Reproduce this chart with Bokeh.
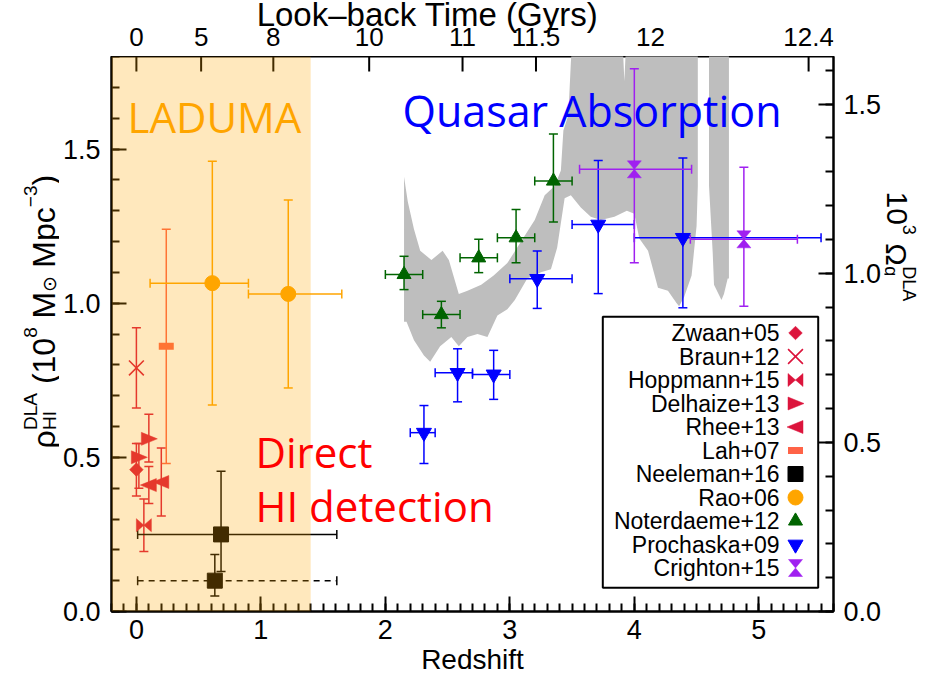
import numpy as np
from bokeh.plotting import figure
from bokeh.layouts import row, column
from bokeh.models import (Range1d, LinearAxis, SingleIntervalTicker, PrintfTickFormatter,
                          BoxAnnotation, Label)
from bokeh.core.properties import value
from bokeh.embed import file_html
from bokeh.resources import INLINE

# ---------------- data (redshift z, rho_HI in 1e8 Msun/Mpc^3) ----------------
zwaan_z = [0.00]; zwaan_r = [0.46]; zwaan_lo = [0.085]; zwaan_hi = [0.085]
braun_z = [0.00]; braun_r = [0.79]; braun_lo = [0.13]; braun_hi = [0.13]
hopp_z = [0.06]; hopp_r = [0.28]; hopp_lo = [0.085]; hopp_hi = [0.085]
delh_z = [0.02, 0.10]; delh_r = [0.50, 0.56]; delh_lo = [0.10, 0.075]; delh_hi = [0.045, 0.08]
rhee_z = [0.10, 0.20]; rhee_r = [0.41, 0.42]; rhee_lo = [0.06, 0.11]; rhee_hi = [0.06, 0.11]
lah_z = [0.24]; lah_r = [0.86]; lah_lo = [0.38]; lah_hi = [0.38]
neel_z = [0.68, 0.63]; neel_r = [0.25, 0.10]; neel_lo = [0.12, 0.05]; neel_hi = [0.205, 0.085]
neel_zlo = [0.01, 0.01]; neel_zhi = [1.61, 1.61]
rao_z = [0.61, 1.22]; rao_r = [1.065, 1.03]; rao_lo = [0.395, 0.305]; rao_hi = [0.395, 0.305]
rao_zlo = [0.11, 0.90]; rao_zhi = [0.90, 1.65]
note_z = [2.15, 2.45, 2.75, 3.05, 3.35]; note_r = [1.093, 0.963, 1.147, 1.212, 1.396]
note_lo = [0.049, 0.043, 0.048, 0.081, 0.133]; note_hi = [0.059, 0.043, 0.060, 0.092, 0.153]
note_zlo = [2.0, 2.3, 2.6, 2.9, 3.2]; note_zhi = [2.3, 2.6, 2.9, 3.2, 3.5]
proc_z = [2.31, 2.58, 2.87, 3.22, 3.71, 4.39]; proc_r = [0.58, 0.774, 0.769, 1.079, 1.255, 1.212]
proc_lo = [0.10, 0.094, 0.081, 0.096, 0.224, 0.227]; proc_hi = [0.088, 0.078, 0.078, 0.09, 0.208, 0.259]
proc_zlo = [2.2, 2.4, 2.7, 3.0, 3.5, 4.0]; proc_zhi = [2.4, 2.7, 3.0, 3.5, 4.0, 5.5]
crig_z = [4.00, 4.88]; crig_r = [1.434, 1.207]; crig_lo = [0.303, 0.217]; crig_hi = [0.326, 0.234]
crig_zlo = [3.56, 4.45]; crig_zhi = [4.46, 5.31]

# grey band (continuous DLA estimate): upper / lower envelopes
band1_top_z = [2.15, 2.18, 2.23, 2.28, 2.37, 2.46, 2.51, 2.59, 2.66, 2.77, 2.87, 2.98, 3.09, 3.20,
               3.28, 3.36, 3.41, 3.43, 3.47, 3.49, 3.51, 3.90, 3.92, 3.94, 4.51]
band1_top_r = [1.41, 1.33, 1.24, 1.17, 1.14, 1.17, 1.14, 1.03, 1.04, 1.06, 1.09, 1.13, 1.20, 1.27,
               1.35, 1.38, 1.43, 1.56, 1.61, 1.78, 1.90, 1.90, 1.72, 1.90, 1.90]
band1_bot_z = [2.15, 2.17, 2.23, 2.31, 2.36, 2.44, 2.53, 2.59, 2.66, 2.74, 2.82, 2.90, 2.98, 3.04,
               3.14, 3.25, 3.33, 3.38, 3.44, 3.49, 3.57, 3.65, 3.73, 3.84, 3.94, 4.00, 4.04, 4.11,
               4.19, 4.27, 4.34, 4.36, 4.40, 4.46, 4.50, 4.51]
band1_bot_r = [0.94, 0.94, 0.88, 0.83, 0.81, 0.86, 0.89, 0.86, 0.89, 0.90, 0.89, 0.96, 0.98, 1.01,
               1.08, 1.10, 1.11, 1.18, 1.34, 1.35, 1.31, 1.28, 1.27, 1.28, 1.30, 1.29, 1.21, 1.17,
               1.05, 1.04, 1.00, 0.99, 1.02, 1.09, 1.25, 1.38]
band2_z = [4.60, 4.76, 4.76, 4.75, 4.72, 4.70, 4.64, 4.63, 4.60]
band2_r = [1.90, 1.90, 1.08, 1.08, 1.03, 1.01, 1.06, 1.16, 1.38]

# top axis: look-back time labels and the redshifts where they sit
top_labels = ["0", "5", "8", "10", "11", "11.5", "12", "12.4"]
top_z = [0.0, 0.52, 1.10, 1.87, 2.62, 3.21, 4.13, 5.40]

legend_names = ["Zwaan+05", "Braun+12", "Hoppmann+15", "Delhaize+13", "Rhee+13", "Lah+07",
                "Neeleman+16", "Rao+06", "Noterdaeme+12", "Prochaska+09", "Crighton+15"]

OMEGA_PER_RHO = 1.0 / 1.097   # right axis conversion

# ---------------- colours ----------------
CRIMSON = "#dc143c"; TOMATO = "#ff6347"; ORANGE = "#ffa500"; DKGREEN = "#006400"
BLUE = "#0000ff"; PURPLE = "#a020f0"; GREY = "#bebebe"

# ---------------- geometry ----------------
FW, FH = 722, 555
X0, X1 = -0.2, 5.6
Y0, Y1 = 0.0, 1.8
O = 1                                # where the layout starts in the screenshot
LEFT_W, BORDER_L, BORDER_R, RIGHT_W = 59, 51, 50, 40
TOP_H, BOTTOM_B = 56, 67
FL = O + LEFT_W + BORDER_L           # frame left (px)
FT = O + TOP_H                       # frame top (px)
TOTAL_H = TOP_H + FH + BOTTOM_B
def dz(px): return px * (X1 - X0) / FW
def dr(px): return px * (Y1 - Y0) / FH
def zpix(xp): return X0 + dz(xp - FL)
def rpix(yp): return Y1 - dr(yp - FT)

FONT = "Liberation Sans"
TICK_FS = "27px"

p = figure(frame_width=FW, frame_height=FH, x_range=Range1d(X0, X1), y_range=Range1d(Y0, Y1),
           output_backend="svg", toolbar_location=None,
           min_border_left=BORDER_L, min_border_right=BORDER_R, min_border_top=0,
           min_border_bottom=BOTTOM_B)
p.xgrid.visible = False
p.ygrid.visible = False
p.outline_line_color = "black"
p.outline_line_width = 2

def style_axis(ax, size=TICK_FS):
    ax.axis_line_width = 2
    ax.axis_line_color = "black"
    ax.major_tick_line_width = 2
    ax.minor_tick_line_width = 2
    ax.major_tick_in = 15
    ax.major_tick_out = 0
    ax.minor_tick_in = 8
    ax.minor_tick_out = 0
    ax.major_label_text_font = FONT
    ax.major_label_text_font_size = size
    ax.major_label_text_color = "black"
    ax.major_label_standoff = 8

# bottom
p.xaxis.ticker = SingleIntervalTicker(interval=1, num_minor_ticks=10)
style_axis(p.xaxis)
p.xaxis.axis_label = "Redshift"
p.xaxis.axis_label_text_font = FONT
p.xaxis.axis_label_text_font_size = "28px"
p.xaxis.axis_label_text_font_style = "normal"
p.xaxis.axis_label_text_color = "black"
p.xaxis.axis_label_standoff = 2
# left
p.yaxis.ticker = SingleIntervalTicker(interval=0.5, num_minor_ticks=5)
p.yaxis.formatter = PrintfTickFormatter(format="%.1f")
style_axis(p.yaxis)
p.yaxis.major_label_standoff = 11
# right
p.extra_y_ranges = {"omega": Range1d(Y0 * OMEGA_PER_RHO, Y1 * OMEGA_PER_RHO)}
ax_r = LinearAxis(y_range_name="omega", ticker=SingleIntervalTicker(interval=0.5, num_minor_ticks=5),
                  formatter=PrintfTickFormatter(format="%.1f"))
style_axis(ax_r)
ax_r.major_label_standoff = 10
p.add_layout(ax_r, "right")

# top ticks (look-back time), pointing into the frame
p.segment(x0=top_z, y0=[Y1] * len(top_z), x1=top_z, y1=[Y1 - dr(15)] * len(top_z),
          line_color="black", line_width=2)

# ---------------- grey band ----------------
b1x = band1_top_z + band1_bot_z[::-1]
b1y = band1_top_r + band1_bot_r[::-1]
p.patches(xs=[b1x, band2_z], ys=[b1y, band2_r], fill_color=GREY, line_color=None)

# ---------------- error bars ----------------
def errbars(z, r, lo, hi, color, zlo=None, zhi=None, dashed=False, lw=1.5):
    z = np.array(z, float); r = np.array(r, float)
    lo = np.array(lo, float); hi = np.array(hi, float)
    p.segment(x0=z, y0=r - lo, x1=z, y1=r + hi, line_color=color, line_width=lw)
    p.scatter(x=np.r_[z, z], y=np.r_[r - lo, r + hi], marker="dash", size=9,
              line_color=color, line_width=lw)
    if zlo is not None:
        zlo = np.array(zlo, float); zhi = np.array(zhi, float)
        p.segment(x0=zlo, y0=r, x1=zhi, y1=r, line_color=color, line_width=lw,
                  line_dash="6 5" if dashed else "solid")
        p.scatter(x=np.r_[zlo, zhi], y=np.r_[r, r], marker="dash", size=9, angle=np.pi / 2,
                  line_color=color, line_width=lw)

errbars(braun_z, braun_r, braun_lo, braun_hi, CRIMSON)
errbars(zwaan_z, zwaan_r, zwaan_lo, zwaan_hi, CRIMSON)
errbars(hopp_z, hopp_r, hopp_lo, hopp_hi, CRIMSON)
errbars(delh_z, delh_r, delh_lo, delh_hi, CRIMSON)
errbars(rhee_z, rhee_r, rhee_lo, rhee_hi, CRIMSON)
errbars(lah_z, lah_r, lah_lo, lah_hi, TOMATO)
errbars(rao_z, rao_r, rao_lo, rao_hi, ORANGE, rao_zlo, rao_zhi)
errbars(neel_z[:1], neel_r[:1], neel_lo[:1], neel_hi[:1], "black", neel_zlo[:1], neel_zhi[:1])
errbars(neel_z[1:], neel_r[1:], neel_lo[1:], neel_hi[1:], "black", neel_zlo[1:], neel_zhi[1:], dashed=True)
errbars(note_z, note_r, note_lo, note_hi, DKGREEN, note_zlo, note_zhi)
errbars(proc_z, proc_r, proc_lo, proc_hi, BLUE, proc_zlo, proc_zhi)
errbars(crig_z, crig_r, crig_lo, crig_hi, PURPLE, crig_zlo, crig_zhi)

# ---------------- markers ----------------
# polygon symbols: vertex offsets in screen pixels (x right, y up) around each data point
SYMBOLS = {
    "diamond":   [(0, 6.8), (6.8, 0), (0, -6.8), (-6.8, 0)],
    "bowtie":    [(-7.5, 6.5), (7.5, -6.5), (7.5, 6.5), (-7.5, -6.5)],
    "right":     [(-7.5, 6.5), (8.5, 0), (-7.5, -6.5)],
    "left":      [(7.5, 6.5), (-8.5, 0), (7.5, -6.5)],
    "hourglass": [(-7, 8.5), (7, 8.5), (-7, -8.5), (7, -8.5)],
}

def poly_marker(kind, z, r, color):
    verts = SYMBOLS[kind]
    xs = [[zi + dz(vx) for vx, vy in verts] for zi in z]
    ys = [[ri + dr(vy) for vx, vy in verts] for ri in r]
    p.patches(xs=xs, ys=ys, fill_color=color, line_color=color, line_width=0.5)

def draw_markers(kind, z, r, color):
    if kind in SYMBOLS:
        poly_marker(kind, z, r, color)
    elif kind == "x":
        p.scatter(x=z, y=r, marker="x", size=21, line_color=color, line_width=1.6)
    elif kind == "bar":
        p.rect(x=z, y=r, width=15, height=7, width_units="screen", height_units="screen",
               fill_color=color, line_color=None)
    elif kind == "square":
        p.scatter(x=z, y=r, marker="square", size=15, fill_color=color, line_color=color)
    elif kind == "circle":
        p.scatter(x=z, y=r, marker="circle", size=15, fill_color=color, line_color=color)
    elif kind == "up":
        p.scatter(x=z, y=r, marker="triangle", size=14, fill_color=color, line_color=color)
    elif kind == "down":
        p.scatter(x=z, y=r, marker="inverted_triangle", size=15, fill_color=color, line_color=color)

series = [("diamond", zwaan_z, zwaan_r, CRIMSON), ("x", braun_z, braun_r, CRIMSON),
          ("bowtie", hopp_z, hopp_r, CRIMSON), ("right", delh_z, delh_r, CRIMSON),
          ("left", rhee_z, rhee_r, CRIMSON), ("bar", lah_z, lah_r, TOMATO),
          ("square", neel_z, neel_r, "black"), ("circle", rao_z, rao_r, ORANGE),
          ("up", note_z, note_r, DKGREEN), ("down", proc_z, proc_r, BLUE),
          ("hourglass", crig_z, crig_r, PURPLE)]
for kind, z, r, c in series:
    draw_markers(kind, z, r, c)

# ---------------- LADUMA shading (drawn over everything) ----------------
p.add_layout(BoxAnnotation(right=1.4, fill_color=ORANGE, fill_alpha=0.26, line_alpha=0, level="overlay"))

# ---------------- legend (box + right-aligned names + markers) ----------------
p.add_layout(BoxAnnotation(left=zpix(602.3), right=zpix(817.7), top=rpix(317.3), bottom=rpix(588.3),
                           fill_color="white", fill_alpha=1.0, line_color="black", line_alpha=1.0,
                           line_width=2, level="underlay"))
row_y = [rpix(333.5 + 23.5 * i) for i in range(len(legend_names))]
p.text(x=[zpix(779)] * len(legend_names), y=row_y, text=legend_names, text_align="right",
       text_baseline="middle", text_font=value(FONT), text_font_size="23px", text_color="black")
for (kind, _, _, c), yy in zip(series, row_y):
    draw_markers(kind, [zpix(795)], [yy], c)

# ---------------- in-plot texts ----------------
def add_label(text, xp, yp, size, color, font="Open Sans"):
    p.add_layout(Label(x=zpix(xp), y=rpix(yp), text=text, text_font=font, text_font_size=size,
                       text_color=color, text_align="left", text_baseline="alphabetic", level="overlay"))

add_label("LADUMA", 127, 117, "42px", ORANGE)
add_label("Quasar Absorption", 402, 111, "43px", BLUE)
add_label("Direct", 255, 452, "42px", "#ff0000")
add_label("HI detection", 255, 506, "42px", "#ff0000")

# ---------------- strip above: look-back time labels + title ----------------
top_fig = figure(frame_width=FW, frame_height=TOP_H, x_range=p.x_range, y_range=Range1d(0, TOP_H),
                 output_backend="svg", toolbar_location=None, x_axis_type=None, y_axis_type=None,
                 min_border_left=BORDER_L, min_border_right=BORDER_R, min_border_top=0, min_border_bottom=0,
                 outline_line_color=None)
top_fig.grid.visible = False
top_fig.text(x=top_z, y=[FT - 37] * len(top_z), text=top_labels, text_align="center",
             text_baseline="middle", text_font=value(FONT), text_font_size="26px", text_color="black")
top_fig.text(x=[zpix(427)], y=[FT - 15], text=["Look\u2013back Time (Gyrs)"], text_align="center",
             text_baseline="middle", text_font=value(FONT), text_font_size="33px", text_color="black")

# ---------------- side strips with the rotated axis titles ----------------
W = {'\u03c1': 0.58, 'H': 0.722, 'I': 0.278, 'D': 0.722, 'L': 0.556, 'A': 0.667, ' ': 0.278,
     '(': 0.333, '1': 0.556, '0': 0.556, '8': 0.556, 'M': 0.833, '\u2299': 0.8, 'p': 0.556,
     'c': 0.5, '\u2212': 0.584, '3': 0.556, ')': 0.333, '\u03a9': 0.768, 'g': 0.556}
def tw(s, f): return sum(W.get(ch, 0.55) for ch in s) * f

def side_fig(width):
    f = figure(width=width, height=TOTAL_H, x_range=Range1d(0, width), y_range=Range1d(0, TOTAL_H),
               output_backend="svg", toolbar_location=None, x_axis_type=None, y_axis_type=None,
               min_border=0, outline_line_color=None)
    f.grid.visible = False
    return f

def rotated_title(fig, page_x0, pieces, start, base, direction, F, f):
    # direction=+1: text runs upward; superscripts sit towards -x
    def put(txt, xpage, ypage, size):
        fig.text(x=[xpage - page_x0], y=[O + TOTAL_H - ypage], text=[txt], angle=direction * np.pi / 2,
                 text_align="left", text_baseline="alphabetic", text_font=value(FONT),
                 text_font_size=f"{size}px", text_color="black")
    pos = start
    i = 0
    while i < len(pieces):
        txt, kind = pieces[i]
        if kind == "space":
            pos -= direction * 0.278 * F
            i += 1
        elif kind == "n":
            put(txt, base, pos, F)
            pos -= direction * tw(txt, F)
            i += 1
        else:
            group = [pieces[i]]
            if i + 1 < len(pieces) and pieces[i + 1][1] in ("sub", "sup") and pieces[i + 1][1] != kind:
                group.append(pieces[i + 1])
            adv = 0
            for t, k in group:
                shift = (-0.42 * F if k == "sup" else 0.2 * F) * direction
                put(t, base + shift, pos, f)
                adv = max(adv, tw(t, f))
            pos -= direction * adv
            i += len(group)

left_fig = side_fig(LEFT_W)
rotated_title(left_fig, O, [("\u03c1", "n"), ("HI", "sub"), ("DLA", "sup"), ("", "space"), ("(10", "n"),
                            ("8", "sup"), ("", "space"), ("M", "n"), ("\u2299", "sub"), ("", "space"),
                            ("Mpc", "n"), ("\u22123", "sup"), (")", "n")],
              start=449, base=44, direction=1, F=32, f=19)
right_fig = side_fig(RIGHT_W)
RX0 = FL + FW + BORDER_R
rotated_title(right_fig, RX0, [("10", "n"), ("3", "sup"), ("", "space"), ("\u03a9", "n"), ("g", "sub"),
                               ("DLA", "sup")],
              start=192, base=895, direction=-1, F=30, f=18)

layout = row(left_fig, column(top_fig, p, spacing=0), right_fig, spacing=0)
open("out.html", "w").write(file_html(layout, INLINE))
